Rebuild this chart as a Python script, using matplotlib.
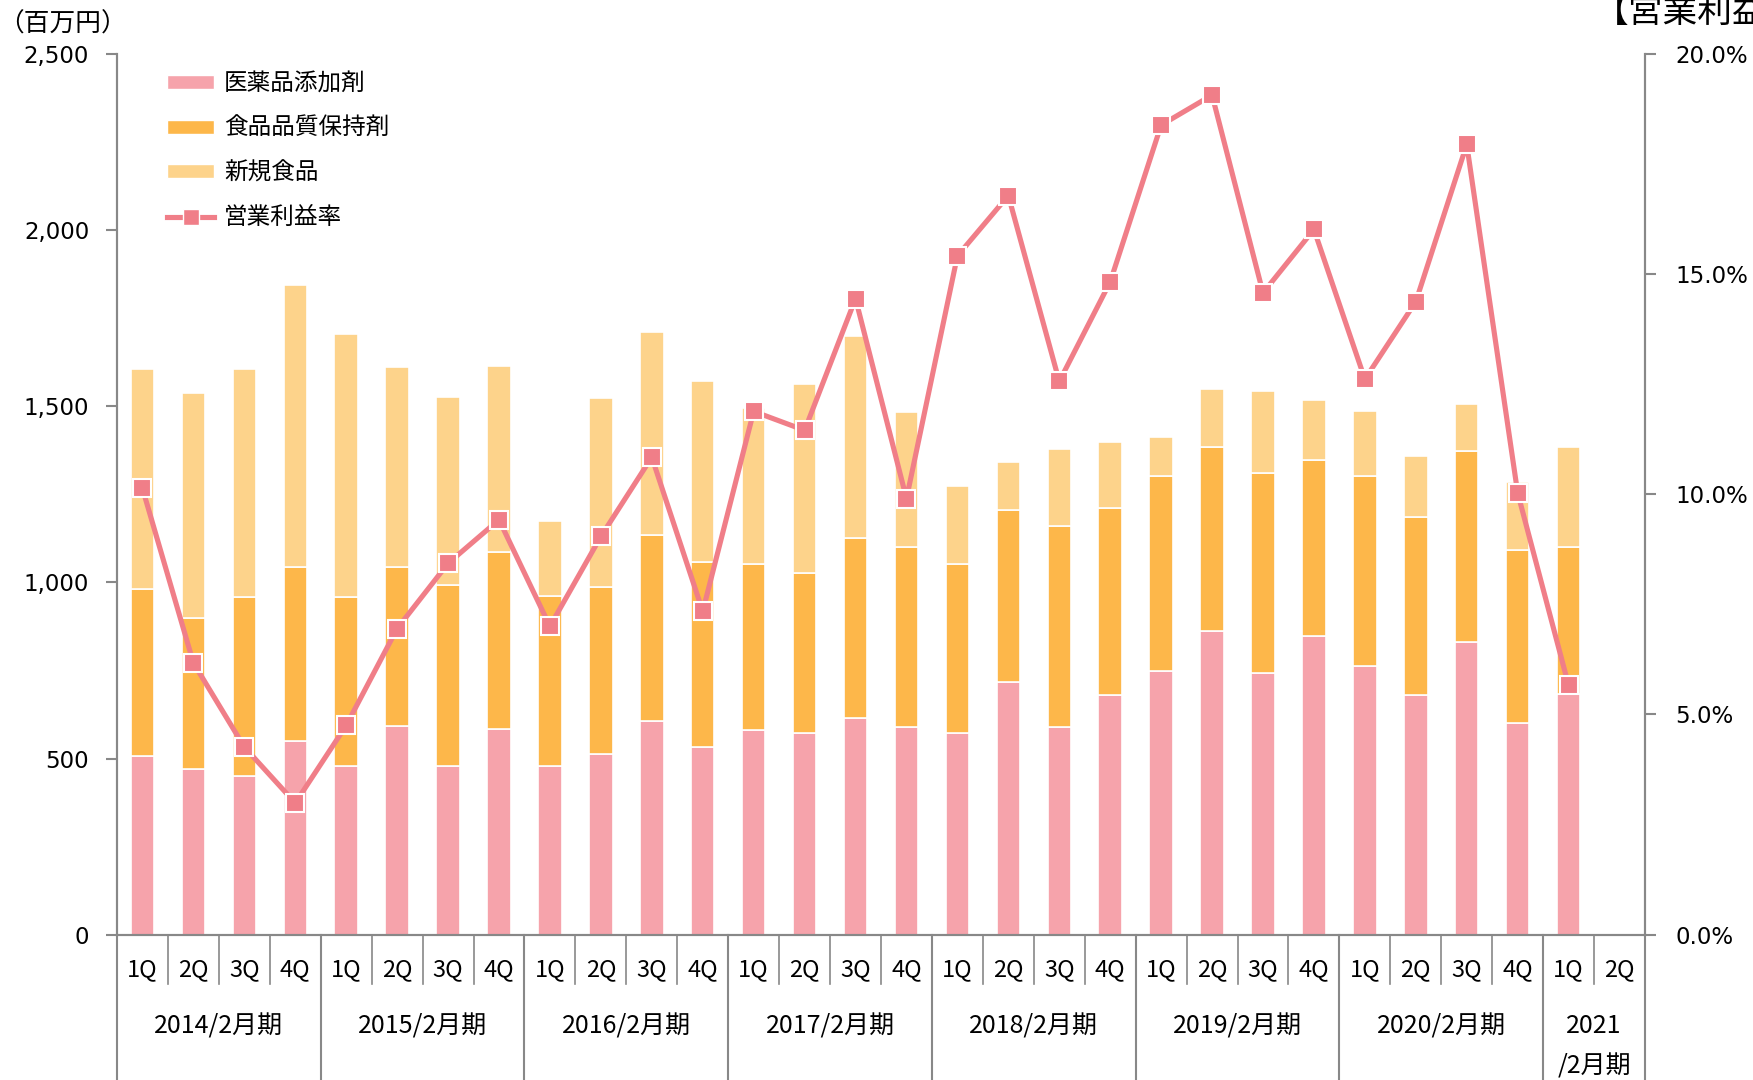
import matplotlib
matplotlib.use("Agg")
import matplotlib.pyplot as plt
import matplotlib.transforms as mtransforms
from matplotlib.lines import Line2D
from matplotlib.patches import Patch
from matplotlib import font_manager
import numpy as np

plt.rcParams['font.family'] = ['Noto Sans CJK JP', 'DejaVu Sans']

# ---- data ----
years = ["2014/2月期", "2015/2月期", "2016/2月期", "2017/2月期",
         "2018/2月期", "2019/2月期", "2020/2月期", "2021\n/2月期"]
year_quarters = [4, 4, 4, 4, 4, 4, 4, 2]
quarters = ["1Q", "2Q", "3Q", "4Q"] * 7 + ["1Q", "2Q"]

pharma = [508, 470, 450, 549, 479, 593, 479, 584, 479, 514, 606, 533,
          581, 571, 616, 590, 571, 717, 590, 679, 749, 863, 742, 847,
          762, 679, 831, 600, 682, np.nan]
food_quality = [472, 428, 508, 495, 479, 451, 514, 501, 482, 473, 527, 524,
                472, 454, 510, 511, 482, 489, 571, 533, 552, 520, 568, 501,
                539, 505, 543, 492, 419, np.nan]
new_food = [625, 638, 647, 800, 746, 568, 533, 530, 213, 536, 577, 514,
            441, 539, 572, 381, 219, 136, 216, 187, 111, 165, 232, 169,
            184, 174, 133, 193, 282, np.nan]
op_margin = [10.13, 6.17, 4.26, 2.99, 4.75, 6.95, 8.43, 9.42, 7.00, 9.04,
             10.84, 7.34, 11.88, 11.45, 14.44, 9.90, 15.41, 16.78, 12.56,
             14.82, 18.38, 19.06, 14.57, 16.01, 12.61, 14.37, 17.94, 10.03,
             5.66, np.nan]

c_pharma = "#F6A3AB"
c_food = "#FDB74A"
c_new = "#FDD38B"
c_line = "#F07E88"
c_axis = "#888888"

installed = {f.name for f in font_manager.fontManager.ttflist}
narrow = ["Liberation Sans Narrow"] if "Liberation Sans Narrow" in installed else []
cat_family = narrow + ["Noto Sans CJK JP", "DejaVu Sans"]

W, H = 1753, 1080
fig = plt.figure(figsize=(W / 100, H / 100), dpi=100)
ax_l, ax_r, ax_b, ax_t = 117 / W, 1645 / W, 1 - 934.7 / H, 1 - 53.7 / H
ax = fig.add_axes([ax_l, ax_b, ax_r - ax_l, ax_t - ax_b])

n = len(quarters)
x = np.arange(n)
bw = 0.46
p = np.array(pharma, dtype=float)
f = np.array(food_quality, dtype=float)
nf = np.array(new_food, dtype=float)
ax.bar(x, p, bw, color=c_pharma, edgecolor="white", linewidth=1.2, zorder=2)
ax.bar(x, f, bw, bottom=p, color=c_food, edgecolor="white", linewidth=1.2, zorder=2)
ax.bar(x, nf, bw, bottom=p + f, color=c_new, edgecolor="white", linewidth=1.2, zorder=2)

ax.set_xlim(-0.5, n - 0.5)
ax.set_ylim(0, 2500)
ax.set_yticks([0, 500, 1000, 1500, 2000, 2500])
ax.set_yticklabels(["0", "500", "1,000", "1,500", "2,000", "2,500"],
                   family="DejaVu Sans", fontsize=16.5)
ax.set_xticks([])
ax.spines["top"].set_visible(False)
for s in ["left", "bottom", "right"]:
    ax.spines[s].set_color(c_axis)
    ax.spines[s].set_linewidth(1.5)
ax.tick_params(axis="y", direction="out", length=8, width=1.5, color=c_axis, pad=12)

ax2 = ax.twinx()
ax2.set_ylim(0, 20)
ax2.set_yticks([0, 5, 10, 15, 20])
ax2.set_yticklabels(["0.0%", "5.0%", "10.0%", "15.0%", "20.0%"],
                    family="DejaVu Sans", fontsize=16.5)
ax2.tick_params(axis="y", direction="out", length=8, width=1.5, color=c_axis, pad=14)
ax2.spines["top"].set_visible(False)
for s in ["left", "bottom", "right"]:
    ax2.spines[s].set_color(c_axis)
    ax2.spines[s].set_linewidth(1.5)
ax2.plot(x, op_margin, color=c_line, linewidth=3.7, marker="s", markersize=13,
         markerfacecolor=c_line, markeredgecolor="white", markeredgewidth=1.5, zorder=3)

# ---- category axis ----
tr = mtransforms.blended_transform_factory(ax.transData, fig.transFigure)
y0 = ax_b
y_q = 1 - 984 / H
for i in range(1, n):
    ax.plot([i - 0.5, i - 0.5], [y0, y_q], transform=tr, color=c_axis,
            linewidth=1.2, clip_on=False)
bounds = np.cumsum([0] + year_quarters) - 0.5
for b in bounds:
    ax.plot([b, b], [y0, 0], transform=tr, color=c_axis, linewidth=1.5, clip_on=False)
for i, q in enumerate(quarters):
    ax.text(i, 1 - 970 / H, q, transform=tr, ha="center", va="center",
            fontsize=19 if narrow else 17, family=cat_family)
ysz = 19 if narrow else 18
for k, yl in enumerate(years):
    cx = (bounds[k] + bounds[k + 1]) / 2
    if "\n" in yl:
        a, b2 = yl.split("\n")
        ax.text(cx, 1 - 1026 / H, a, transform=tr, ha="center", va="center",
                fontsize=ysz, family=cat_family)
        ax.text(cx, 1 - 1066 / H, b2, transform=tr, ha="center", va="center",
                fontsize=ysz, family=cat_family)
    else:
        ax.text(cx, 1 - 1026 / H, yl, transform=tr, ha="center", va="center",
                fontsize=ysz, family=cat_family)

# ---- titles ----
fig.text(-2 / W, 1 - 25 / H, "（百万円）", ha="left", va="center", fontsize=18.5)
fig.text(1594 / W, 1 - 12 / H, "【営業利益率】", ha="left", va="center", fontsize=25)

# ---- legend ----
handles = [Patch(facecolor=c_pharma, edgecolor="white"),
           Patch(facecolor=c_food, edgecolor="white"),
           Patch(facecolor=c_new, edgecolor="white"),
           Line2D([0], [0], color=c_line, linewidth=3.7, marker="s", markersize=12,
                  markerfacecolor=c_line, markeredgecolor="white")]
labels = ["医薬品添加剤", "食品品質保持剤", "新規食品", "営業利益率"]
leg = ax2.legend(handles, labels, loc="upper left", bbox_to_anchor=(146 / W, 1 - 51 / H),
                 bbox_transform=fig.transFigure, frameon=False, fontsize=17,
                 handlelength=2.0, handleheight=0.55, labelspacing=0.92, handletextpad=0.4)

fig.savefig("out.png", dpi=100)
